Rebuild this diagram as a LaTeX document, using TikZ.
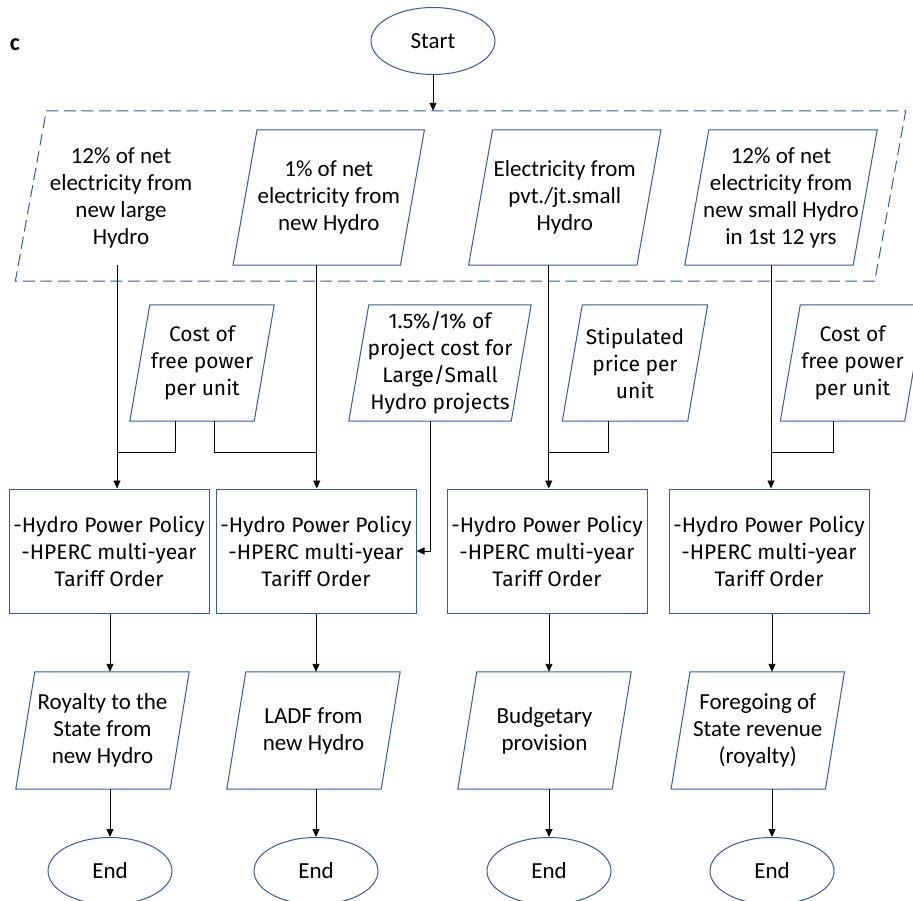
\documentclass[tikz,border=0pt]{standalone}
\usepackage{fontspec}
\setmainfont{Carlito}
\newfontfamily\firafont{Fira Sans}
\usetikzlibrary{arrows.meta, positioning, shapes.geometric, calc}
\definecolor{boxline}{RGB}{52,94,145}

\begin{document}
\begin{tikzpicture}[x=1pt, y=-1pt,
  terminal/.style={ellipse, draw=boxline, line width=1pt, minimum width=124pt,
                   minimum height=67pt, inner sep=0pt,
                   font=\fontsize{23}{27}\selectfont},
  iobox/.style={rectangle, inner sep=0pt, align=center,
                append after command={\pgfextra{%
                  \draw[draw=boxline, line width=1pt]
                    ([xshift=#1]\tikzlastnode.north west) -- ([xshift=#1]\tikzlastnode.north east)
                    -- ([xshift=-#1]\tikzlastnode.south east) -- ([xshift=-#1]\tikzlastnode.south west)
                    -- cycle;}}},
  groupbox/.style={rectangle, inner sep=0pt,
                append after command={\pgfextra{%
                  \draw[draw=boxline, line width=1pt, dash pattern=on 12pt off 5.5pt]
                    ([xshift=#1]\tikzlastnode.north west) -- ([xshift=#1]\tikzlastnode.north east)
                    -- ([xshift=-#1]\tikzlastnode.south east) -- ([xshift=-#1]\tikzlastnode.south west)
                    -- cycle;}}},
  narrowtext/.style={font=\fontsize{23}{27}\selectfont},
  widetext/.style={font=\firafont\fontsize{21}{27}\selectfont},
  policybox/.style={rectangle, draw=boxline, line width=1pt, minimum width=200pt,
                    minimum height=124pt, inner sep=0pt, align=center, widetext},
  link/.style={draw=black, line width=0.9pt},
  arrowstyle/.style={link, -{Triangle[length=8pt, width=7pt]}},
]
\useasboundingbox (0,0) rectangle (913,901);

% =================================================================
% TOP: start and the four sources
% =================================================================
\node[font=\bfseries\fontsize{24}{28}\selectfont] (panel) at (15,45) {c};
\node[terminal] (start) at (433,41) {Start};

\node[groupbox=15.5pt, minimum width=859pt, minimum height=170pt] (inputs) at (460.5,196) {};

\node[narrowtext, align=center, minimum height=135pt, inner sep=0pt] (src1) at (121,197.5)
  {12\% of net\\electricity from\\new large\\Hydro};
\node[iobox=12pt, narrowtext, minimum width=167pt, minimum height=135pt] (src2) at (328.75,197.5)
  {1\% of net\\electricity from\\new Hydro};
\node[iobox=12pt, narrowtext, minimum width=168pt, minimum height=135pt] (src3) at (564.75,197.5)
  {Electricity from\\pvt./jt.small\\Hydro};
\node[iobox=12pt, narrowtext, minimum width=168pt, minimum height=135pt] (src4) at (781,197.5)
  {12\% of net\\electricity from\\new small Hydro\\in 1st 12 yrs};

% =================================================================
% MIDDLE: unit rates
% =================================================================
\node[iobox=10pt, widetext, minimum width=124pt, minimum height=116pt] (rate1) at (202,363)
  {Cost of\\free power\\per unit};
\node[iobox=10pt, widetext, minimum width=162pt, minimum height=116pt] (rate2) at (440,363)
  {1.5\%/1\% of\\project cost for\\Large/Small\\Hydro projects};
\node[iobox=10pt, widetext, minimum width=125pt, minimum height=116pt] (rate3) at (635,363)
  {Stipulated\\price per\\unit};
\node[iobox=10pt, widetext, minimum width=124pt, minimum height=116pt] (rate4) at (852.5,363)
  {Cost of\\free power\\per unit};

% =================================================================
% POLICY BOXES
% =================================================================
\node[policybox] (pol1) at (109,551) {-Hydro Power Policy\\-HPERC multi-year\\Tariff Order};
\node[policybox] (pol2) at (316,551) {-Hydro Power Policy\\-HPERC multi-year\\Tariff Order};
\node[policybox] (pol3) at (547,551) {-Hydro Power Policy\\-HPERC multi-year\\Tariff Order};
\node[policybox] (pol4) at (769,551) {-Hydro Power Policy\\-HPERC multi-year\\Tariff Order};

% =================================================================
% BOTTOM: outcomes and ends
% =================================================================
\node[iobox=9.5pt, narrowtext, minimum width=154pt, minimum height=117pt] (out1) at (102.5,730.5)
  {Royalty to the\\State from\\new Hydro};
\node[iobox=9.5pt, narrowtext, minimum width=154pt, minimum height=117pt] (out2) at (313.5,730.5)
  {LADF from\\new Hydro};
\node[iobox=9.5pt, narrowtext, minimum width=154pt, minimum height=117pt] (out3) at (544.5,730.5)
  {Budgetary\\provision};
\node[iobox=9.5pt, narrowtext, minimum width=154pt, minimum height=117pt] (out4) at (757.75,730.5)
  {Foregoing of\\State revenue\\(royalty)};

\node[terminal] (end1) at (110,871) {End};
\node[terminal] (end2) at (316,871) {End};
\node[terminal] (end3) at (549,871) {End};
\node[terminal] (end4) at (772,871) {End};

% Connectors
\draw[arrowstyle] (start.south) -- (start.south |- inputs.north);

\draw[arrowstyle] ([xshift=-4pt]src1.south) -- ([xshift=-4pt]src1.south |- pol1.north);
\draw[arrowstyle] ([xshift=-12pt]src2.south) -- ([xshift=-12pt]src2.south |- pol2.north);
\draw[arrowstyle] ([xshift=-16pt]src3.south) -- ([xshift=-16pt]src3.south |- pol3.north);
\draw[arrowstyle] ([xshift=-10pt]src4.south) -- ([xshift=-10pt]src4.south |- pol4.north);

\draw[link] ([xshift=-27pt]rate1.south) |- ([xshift=-4pt]src1.south |- 0,452);
\draw[link] ([xshift=12pt]rate1.south) |- ([xshift=-12pt]src2.south |- 0,452);
\draw[arrowstyle] ([xshift=-10pt]rate2.south) |- (pol2.east);
\draw[link] ([xshift=-27pt]rate3.south) |- ([xshift=-16pt]src3.south |- 0,452);
\draw[link] ([xshift=-19.5pt]rate4.south) |- ([xshift=-10pt]src4.south |- 0,452);

\foreach \i in {1,...,4} {
  \draw[arrowstyle] (end\i.north |- pol\i.south) -- (end\i.north |- out\i.north);
  \draw[arrowstyle] (end\i.north |- out\i.south) -- (end\i.north);
}

\end{tikzpicture}
\end{document}
